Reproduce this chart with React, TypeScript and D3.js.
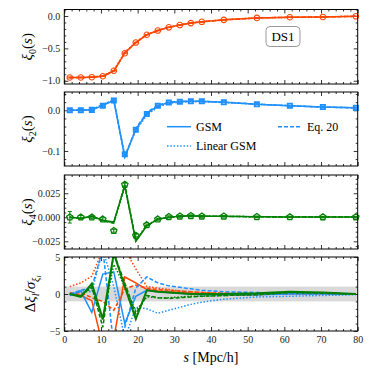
import React, { useEffect, useRef } from "react";
import * as d3 from "d3";

// separation bins (Mpc/h)
const sBins = [1.5, 4.5, 7.5, 10.5, 13.5, 16.5, 19.5, 22.5, 25.5, 28.5, 31.5, 34.5, 37.5, 43.5, 52.5, 61.5, 70.5, 79.5];

// monopole
const xi0Data = [-0.95, -0.95, -0.945, -0.93, -0.845, -0.575, -0.41, -0.29, -0.225, -0.175, -0.14, -0.11, -0.09, -0.06, -0.03, -0.02, -0.015, -0.005];
const xi0Err = [0.008, 0.006, 0.006, 0.005, 0.005, 0.005, 0.004, 0.004, 0.004, 0.003, 0.003, 0.003, 0.003, 0.002, 0.002, 0.002, 0.002, 0.002];
const xi0Gsm = [-0.95, -0.95, -0.945, -0.93, -0.85, -0.57, -0.41, -0.29, -0.225, -0.175, -0.14, -0.11, -0.09, -0.06, -0.03, -0.02, -0.015, -0.005];
const xi0Lin = [-0.948, -0.948, -0.94, -0.925, -0.84, -0.56, -0.405, -0.288, -0.223, -0.174, -0.139, -0.11, -0.09, -0.06, -0.03, -0.02, -0.015, -0.005];
const xi0Eq20 = [-0.95, -0.95, -0.946, -0.931, -0.848, -0.572, -0.408, -0.289, -0.224, -0.175, -0.14, -0.11, -0.09, -0.06, -0.03, -0.02, -0.015, -0.005];

// quadrupole
const xi2Data = [0.0, 0.0, 0.001, 0.011, 0.024, -0.108, -0.048, -0.009, 0.011, 0.019, 0.021, 0.022, 0.022, 0.02, 0.015, 0.011, 0.008, 0.006];
const xi2Err = [0.002, 0.002, 0.002, 0.002, 0.002, 0.003, 0.002, 0.002, 0.002, 0.001, 0.001, 0.001, 0.001, 0.001, 0.001, 0.001, 0.001, 0.001];
const xi2Gsm = [0.0, 0.0, 0.001, 0.012, 0.024, -0.115, -0.047, -0.008, 0.011, 0.019, 0.021, 0.022, 0.022, 0.02, 0.015, 0.011, 0.008, 0.006];
const xi2Lin = [0.001, 0.001, 0.002, 0.014, 0.026, -0.112, -0.05, -0.012, 0.008, 0.017, 0.02, 0.021, 0.021, 0.019, 0.015, 0.011, 0.008, 0.006];
const xi2Eq20 = [0.0, 0.001, 0.002, 0.013, 0.025, -0.114, -0.045, -0.006, 0.013, 0.02, 0.022, 0.022, 0.022, 0.02, 0.015, 0.011, 0.008, 0.006];

// hexadecapole
const xi4Data = [0.0, 0.0, 0.0, -0.002, -0.014, 0.034, -0.019, -0.008, -0.002, 0.0005, 0.001, 0.0015, 0.001, 0.001, 0.0005, 0.0003, 0.0002, 0.0002];
const xi4Err = [0.006, 0.002, 0.0015, 0.0015, 0.0015, 0.0015, 0.0015, 0.001, 0.001, 0.001, 0.001, 0.001, 0.001, 0.0008, 0.0008, 0.0008, 0.0008, 0.0008];
const xi4Gsm = [0.0, -0.001, 0.001, -0.003, -0.005, 0.033, -0.025, -0.009, -0.002, 0.0, 0.001, 0.0015, 0.001, 0.001, 0.0005, 0.0003, 0.0002, 0.0002];
const xi4Lin = [0.0, -0.001, 0.0005, -0.003, -0.006, 0.032, -0.024, -0.008, -0.002, 0.0, 0.001, 0.0014, 0.001, 0.001, 0.0005, 0.0003, 0.0002, 0.0002];
const xi4Eq20 = [0.0, -0.001, 0.001, -0.004, -0.006, 0.034, -0.024, -0.009, -0.002, 0.0, 0.001, 0.0015, 0.001, 0.001, 0.0005, 0.0003, 0.0002, 0.0002];

// residuals (model - data) / sigma
const r0Gsm = [0.2, -0.2, -0.9, -7, -6, 2.3, 1.5, 0.6, 0.4, 0.3, 0.2, 0.1, 0.0, -0.1, -0.1, 0.1, 0.1, 0.0];
const r0Lin = [1.0, 1.5, 2.4, 6, 8, 6, 3.4, 1.0, 0.8, 0.6, 0.4, 0.3, 0.2, 0.1, 0.0, 0.1, 0.1, 0.0];
const r0Eq20 = [0.0, 0.2, -0.5, -1.0, -2.2, 0.7, 1.2, 0.8, 0.6, 0.5, 0.4, 0.3, 0.2, 0.1, 0.0, 0.0, 0.0, 0.0];
const r2Gsm = [-0.2, 0.4, -2.5, 2.7, 3.0, -4.0, -0.3, 0.5, 0.3, 0.2, 0.1, 0.0, -0.1, -0.1, -0.1, 0.0, 0.0, 0.0];
const r2Lin = [0.0, 0.45, 0.3, 6, 1, -6, -1.8, -2.0, -2.6, -2.2, -1.8, -1.4, -1.1, -0.7, -0.4, -0.3, -0.2, -0.1];
const r2Eq20 = [0.0, 0.5, 0.9, 6, -7, -4.5, 0.8, 2.3, 1.5, 1.1, 0.9, 0.7, 0.5, 0.3, 0.2, 0.1, 0.1, 0.0];
const r4Gsm = [0.0, -0.4, 1.4, -3.4, 5.5, 1.0, -3.4, 0.5, 0.3, 0.2, 0.1, 0.0, 0.0, 0.0, 0.1, 0.3, 0.2, 0.0];
const r4Lin = [0.0, -0.2, 0.8, -3.5, 4.0, 1.0, -2.3, -0.4, -0.5, -0.5, -0.4, -0.3, -0.3, -0.2, -0.1, 0.2, 0.1, 0.0];
const r4Eq20 = [0.0, -0.3, 1.0, -4.5, 5.5, 1.5, -2.7, -0.2, -0.5, -0.6, -0.5, -0.4, -0.3, -0.2, -0.1, 0.2, 0.1, 0.0];

const ORANGE = "#ff4500";
const BLUE = "#1e90ff";
const GREEN = "#008000";
const FONT = "'Liberation Serif', 'DejaVu Serif', serif";

const dashStyles = { gsm: null, lin: "1.5,1.8", eq: "4,2" };

// d3 has no pentagon symbol, so a small custom one
const symbolPentagon = {
    draw(context, size) {
        const r = Math.sqrt(size / 2.38);
        for (let k = 0; k < 5; k++) {
            const a = -Math.PI / 2 + (k * 2 * Math.PI) / 5;
            if (k === 0) context.moveTo(r * Math.cos(a), r * Math.sin(a));
            else context.lineTo(r * Math.cos(a), r * Math.sin(a));
        }
        context.closePath();
    },
};

export default function App() {
    const ref = useRef(null);

    useEffect(() => {
        const svg = d3.select(ref.current);
        svg.selectAll("*").remove();

        const left = 64.3, right = 357.7;
        const x = d3.scaleLinear().domain([0, 80]).range([left, right]);

        const panels = [
            { top: 9.5, bottom: 84, domain: [-1.05, 0.1], major: [-1, -0.5, 0], minor: 0.1, fmt: d3.format(".1f") },
            { top: 92, bottom: 166, domain: [-0.137, 0.045], major: [-0.1, 0], minor: 0.02, fmt: d3.format(".1f") },
            { top: 175, bottom: 249, domain: [-0.033, 0.044], major: [-0.025, 0, 0.025], minor: 0.005, fmt: d3.format(".3f") },
            { top: 257, bottom: 331, domain: [-5, 5], major: [-5, 0, 5], minor: 1, fmt: d3.format("d") },
        ];

        const xMajor = d3.range(0, 81, 10);
        const xMinor = d3.range(0, 81, 2).filter(v => v % 10 !== 0);

        panels.forEach((p, i) => {
            const y = d3.scaleLinear().domain(p.domain).range([p.bottom, p.top]);
            p.y = y;
            const isLast = i === panels.length - 1;

            const g = svg.append("g");

            if (isLast) {
                // +-1 sigma band
                g.append("rect")
                    .attr("x", left).attr("width", right - left)
                    .attr("y", y(1)).attr("height", y(-1) - y(1))
                    .attr("fill", "#d9d9d9");
            }

            const yMinor = d3.range(Math.ceil(p.domain[0] / p.minor), Math.floor(p.domain[1] / p.minor) + 1)
                .map(k => +(k * p.minor).toFixed(4))
                .filter(v => !p.major.some(m => Math.abs(m - v) < 1e-9));

            const styleAxis = (sel, labels) => {
                sel.select(".domain").remove();
                sel.selectAll("line").attr("stroke", "#000").attr("stroke-width", 0.8);
                sel.selectAll("text")
                    .style("font-family", FONT)
                    .style("font-size", "10px")
                    .attr("fill", labels ? "#222" : "none");
            };

            // bottom
            g.append("g").attr("transform", `translate(0,${p.bottom})`)
                .call(d3.axisBottom(x).tickValues(xMinor).tickSize(-2).tickFormat(""))
                .call(s => styleAxis(s, false));
            g.append("g").attr("transform", `translate(0,${p.bottom})`)
                .call(d3.axisBottom(x).tickValues(xMajor).tickSize(-4).tickPadding(5).tickFormat(d3.format("d")))
                .call(s => styleAxis(s, isLast));
            // top
            g.append("g").attr("transform", `translate(0,${p.top})`)
                .call(d3.axisTop(x).tickValues(xMinor).tickSize(-2).tickFormat(""))
                .call(s => styleAxis(s, false));
            g.append("g").attr("transform", `translate(0,${p.top})`)
                .call(d3.axisTop(x).tickValues(xMajor).tickSize(-4).tickFormat(""))
                .call(s => styleAxis(s, false));
            // left
            g.append("g").attr("transform", `translate(${left},0)`)
                .call(d3.axisLeft(y).tickValues(yMinor).tickSize(-2).tickFormat(""))
                .call(s => styleAxis(s, false));
            g.append("g").attr("transform", `translate(${left},0)`)
                .call(d3.axisLeft(y).tickValues(p.major).tickSize(-4).tickPadding(4)
                    .tickFormat(v => p.fmt(v).replace("-", "\u2212")))
                .call(s => styleAxis(s, true));
            // right
            g.append("g").attr("transform", `translate(${right},0)`)
                .call(d3.axisRight(y).tickValues(yMinor).tickSize(-2).tickFormat(""))
                .call(s => styleAxis(s, false));
            g.append("g").attr("transform", `translate(${right},0)`)
                .call(d3.axisRight(y).tickValues(p.major).tickSize(-4).tickFormat(""))
                .call(s => styleAxis(s, false));

            svg.append("clipPath").attr("id", "clip" + i)
                .append("rect").attr("x", left).attr("y", p.top)
                .attr("width", right - left).attr("height", p.bottom - p.top);
        });

        const drawLine = (panel, idx, values, color, dash, width) => {
            const line = d3.line().x((d, k) => x(sBins[k])).y(d => panel.y(d));
            svg.append("path")
                .datum(values)
                .attr("clip-path", `url(#clip${idx})`)
                .attr("d", line)
                .attr("fill", "none")
                .attr("stroke", color)
                .attr("stroke-width", width || 1.5)
                .attr("stroke-dasharray", dash);
        };

        const drawPoints = (panel, values, errs, color, shape, size, sw) => {
            const g = svg.append("g");
            values.forEach((v, k) => {
                const cx = x(sBins[k]), cy = panel.y(v);
                const y0 = panel.y(v - errs[k]), y1 = panel.y(v + errs[k]);
                g.append("line").attr("x1", cx).attr("x2", cx).attr("y1", y0).attr("y2", y1)
                    .attr("stroke", color).attr("stroke-width", 1);
                g.append("line").attr("x1", cx - 2).attr("x2", cx + 2).attr("y1", y0).attr("y2", y0)
                    .attr("stroke", color).attr("stroke-width", 1);
                g.append("line").attr("x1", cx - 2).attr("x2", cx + 2).attr("y1", y1).attr("y2", y1)
                    .attr("stroke", color).attr("stroke-width", 1);
            });
            g.selectAll("path.m")
                .data(values)
                .join("path")
                .attr("transform", (d, k) => `translate(${x(sBins[k])},${panel.y(d)})`)
                .attr("d", d3.symbol().type(shape).size(size)())
                .attr("fill", "none")
                .attr("stroke", color)
                .attr("stroke-width", sw);
        };

        const [p0, p2, p4, pr] = panels;

        // monopole
        drawLine(p0, 0, xi0Lin, ORANGE, dashStyles.lin);
        drawLine(p0, 0, xi0Eq20, ORANGE, dashStyles.eq);
        drawLine(p0, 0, xi0Gsm, ORANGE, null);
        drawPoints(p0, xi0Data, xi0Err, ORANGE, d3.symbolCircle, 24, 1.1);

        // quadrupole
        drawLine(p2, 1, xi2Lin, BLUE, dashStyles.lin);
        drawLine(p2, 1, xi2Eq20, BLUE, dashStyles.eq);
        drawLine(p2, 1, xi2Gsm, BLUE, null);
        drawPoints(p2, xi2Data, xi2Err, BLUE, d3.symbolSquare, 18, 1.8);

        // hexadecapole
        drawLine(p4, 2, xi4Lin, GREEN, dashStyles.lin);
        drawLine(p4, 2, xi4Eq20, GREEN, dashStyles.eq);
        drawLine(p4, 2, xi4Gsm, GREEN, null);
        drawPoints(p4, xi4Data, xi4Err, GREEN, symbolPentagon, 26, 1.3);

        // residuals
        drawLine(pr, 3, r0Gsm, ORANGE, null);
        drawLine(pr, 3, r0Lin, ORANGE, dashStyles.lin);
        drawLine(pr, 3, r0Eq20, ORANGE, dashStyles.eq);
        drawLine(pr, 3, r2Gsm, BLUE, null);
        drawLine(pr, 3, r2Lin, BLUE, dashStyles.lin);
        drawLine(pr, 3, r2Eq20, BLUE, dashStyles.eq);
        drawLine(pr, 3, r4Gsm, GREEN, null, 2);
        drawLine(pr, 3, r4Lin, GREEN, dashStyles.lin);
        drawLine(pr, 3, r4Eq20, GREEN, dashStyles.eq);

        // frames
        panels.forEach(p => {
            svg.append("rect")
                .attr("x", left).attr("y", p.top)
                .attr("width", right - left).attr("height", p.bottom - p.top)
                .attr("fill", "none").attr("stroke", "#000").attr("stroke-width", 1);
        });

        // DS1 label
        svg.append("rect").attr("x", 266).attr("y", 26.5).attr("width", 34).attr("height", 20).attr("rx", 4)
            .attr("fill", "#fff").attr("stroke", "#999").attr("stroke-width", 1);
        svg.append("text").attr("x", 283).attr("y", 41).attr("text-anchor", "middle")
            .style("font-family", FONT).style("font-size", "13px").text("DS1");

        // legend in quadrupole panel
        const legend = [
            { label: "GSM", dash: null, x: 167, y: 126.7 },
            { label: "Eq. 20", dash: dashStyles.eq, x: 278, y: 126.7 },
            { label: "Linear GSM", dash: dashStyles.lin, x: 167, y: 146 },
        ];
        legend.forEach(l => {
            svg.append("line").attr("x1", l.x).attr("x2", l.x + 24).attr("y1", l.y).attr("y2", l.y)
                .attr("stroke", BLUE).attr("stroke-width", 1.5).attr("stroke-dasharray", l.dash);
            svg.append("text").attr("x", l.x + 29).attr("y", l.y + 4)
                .style("font-family", FONT).style("font-size", "12px").text(l.label);
        });

        // y labels
        const yLabel = (p, cx, build) => {
            const t = svg.append("text")
                .attr("transform", `translate(${cx},${(p.top + p.bottom) / 2}) rotate(-90)`)
                .attr("text-anchor", "middle")
                .style("font-family", FONT).style("font-size", "15px");
            build(t);
        };
        const xiLabel = ell => t => {
            t.append("tspan").style("font-style", "italic").text("\u03BE");
            t.append("tspan").attr("dy", 3.5).style("font-size", "10px").text(ell);
            t.append("tspan").attr("dy", -3.5).text("(");
            t.append("tspan").style("font-style", "italic").text("s");
            t.append("tspan").text(")");
        };
        yLabel(p0, 32, xiLabel("0"));
        yLabel(p2, 32, xiLabel("2"));
        yLabel(p4, 32, xiLabel("4"));
        yLabel(pr, 35, t => {
            t.append("tspan").text("\u0394");
            t.append("tspan").style("font-style", "italic").text("\u03BE");
            t.append("tspan").attr("dy", 3.5).style("font-size", "10px").style("font-style", "italic").text("l");
            t.append("tspan").attr("dy", -3.5).text("/");
            t.append("tspan").style("font-style", "italic").text("\u03C3");
            t.append("tspan").attr("dy", 3.5).style("font-size", "10px").style("font-style", "italic").text("\u03BE");
            t.append("tspan").attr("dy", 2).style("font-size", "7px").style("font-style", "italic").text("l");
        });

        // x label
        const xl = svg.append("text").attr("x", (left + right) / 2).attr("y", 362).attr("text-anchor", "middle")
            .style("font-family", FONT).style("font-size", "14px");
        xl.append("tspan").style("font-style", "italic").text("s");
        xl.append("tspan").text(" [Mpc/h]");
    }, []);

    return (
        <svg ref={ref} width={374} height={374}
            style={{ position: "absolute", left: 0, top: 0, background: "#fff" }} />
    );
}
